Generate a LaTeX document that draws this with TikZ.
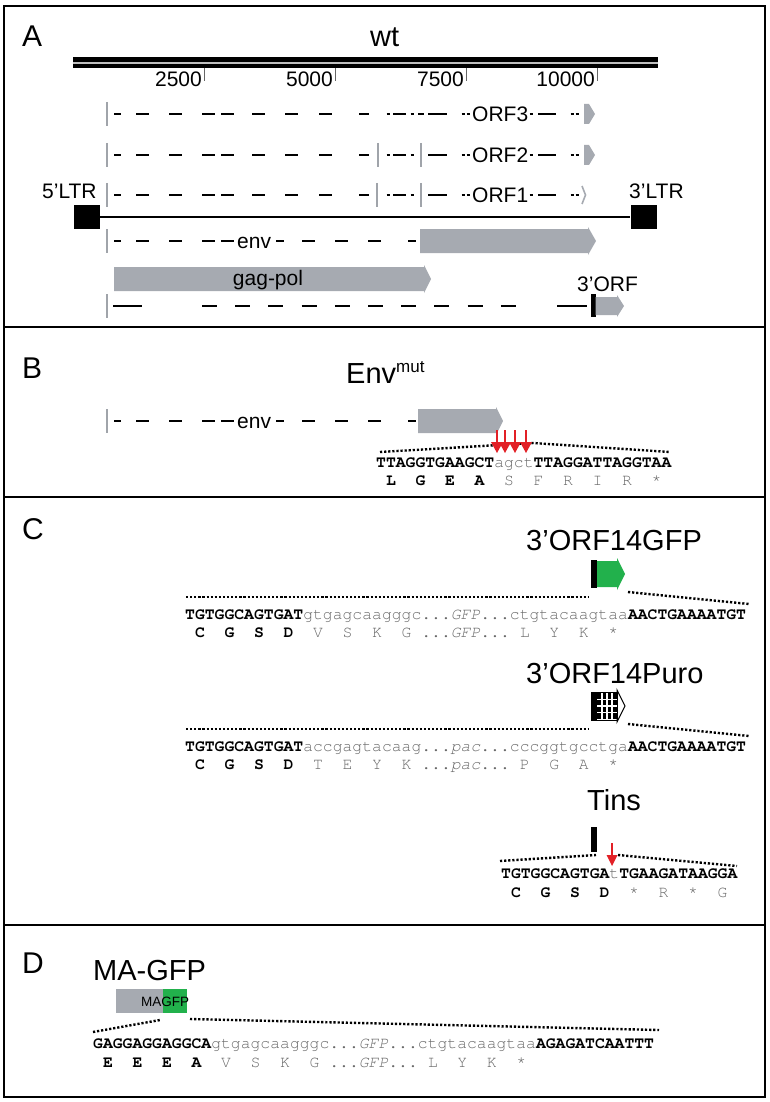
\documentclass[tikz,border=0pt]{standalone}
\usepackage{fontspec}
\setmainfont{Liberation Sans}
\setmonofont{texgyrecursor}[Extension=.otf, UprightFont=*-regular, BoldFont=*-bold, ItalicFont=*-italic, BoldItalicFont=*-bolditalic]
\definecolor{arrgray}{RGB}{166,170,177}
\definecolor{barcol}{RGB}{160,164,170}
\definecolor{gfpgreen}{RGB}{34,177,76}
\definecolor{redc}{RGB}{226,32,38}
\definecolor{seqgray}{RGB}{105,105,105}
\newcommand{\sqB}[1]{{\bfseries #1}}
\newcommand{\sqG}[1]{{\color{seqgray}#1}}
\newcommand{\sqI}[1]{{\itshape #1}}
\tikzset{
  frame/.style={line width=2.5pt},
  dashseg/.style={line width=2.6pt},
  gbar/.style={line width=1.8pt, barcol},
  tick/.style={line width=0.8pt, black!60},
  lab/.style={inner sep=0pt, anchor=base west, font=\fontsize{21}{25}\selectfont},
  big/.style={inner sep=0pt, anchor=base west, font=\fontsize{29}{34}\selectfont},
  panel/.style={inner sep=0pt, anchor=base west, font=\fontsize{30}{36}\selectfont},
  seq/.style={inner sep=0pt, anchor=base west, font=\fontsize{16.4}{18}\selectfont\ttfamily},
  dotline/.style={line width=2.4pt, dash pattern=on 2.2pt off 1.9pt},
  redl/.style={line width=2pt, redc},
  ltrbox/.style={fill=black, minimum width=26pt, minimum height=24pt, inner sep=0pt},
}
\newcommand{\orfprefix}[1]{%
  \foreach \a/\b in {114/121,136/149,169/182,202/215,221/234,252/265,285/298,319/332,359/369}
    {\draw[dashseg] (\a,#1) -- (\b,#1);}}
\newcommand{\orfsuffix}[1]{%
  \foreach \a/\b in {386.5/389.5,393/406,410.5/413.5,428/447,461.5/464.5,466.5/469.5,529.5/532.5,538/556,570.5/573.5,575.5/578.5}
    {\draw[dashseg] (\a,#1) -- (\b,#1);}}
\newcommand{\envrow}[1]{%
  \foreach \a/\b in {114/121,136/149,169/182,202/215,221/234,276/284,302/315,335/348,368/381,408/416}
    {\draw[dashseg] (\a,#1) -- (\b,#1);}}
\begin{document}
\begin{tikzpicture}[x=1pt,y=-1pt]
\useasboundingbox (0,0) rectangle (770,1102);
% frames
\draw[frame] (4,6) rectangle (765,1097);
\draw[frame] (4,327) -- (765,327);
\draw[frame] (4,497) -- (765,497);
\draw[frame] (4,925) -- (765,925);

% ================= Panel A
\node[panel] (lA) at (22,47) {A};
\node[big] (wt) at (370,47) {wt};
\fill (73,57) rectangle (658,62.3);
\fill[black!25] (73,62.3) rectangle (658,63.7);
\fill (73,63.7) rectangle (658,68.3);
\foreach \xx/\tt in {204/2500,335/5000,466/7500,597/10000}{
  \draw[tick] (\xx,68) -- (\xx,81);
  \node[lab, anchor=base east] at (\xx-2,87) {\tt};
}
% ORF3
\draw[gbar] (107,102) -- (107,126);
\orfprefix{114}
\orfsuffix{114}
\draw[dashseg] (418,114) -- (424,114);
\node[lab] (orf3) at (472,121.5) {ORF3};
\fill[arrgray] (584,104) -- (589,104) -- (595,114) -- (589,124) -- (584,124) -- cycle;
% ORF2
\draw[gbar] (107,143) -- (107,167);
\orfprefix{155}
\orfsuffix{155}
\draw[gbar] (378,143) -- (378,167);
\draw[gbar] (421,143) -- (421,167);
\node[lab] (orf2) at (472,162.5) {ORF2};
\fill[arrgray] (584,145) -- (589,145) -- (595,155) -- (589,165) -- (584,165) -- cycle;
% ORF1
\draw[gbar] (107,183) -- (107,207);
\orfprefix{195}
\orfsuffix{195}
\draw[gbar] (377,183) -- (377,207);
\draw[gbar] (421,183) -- (421,207);
\node[lab] (orf1) at (472,202.5) {ORF1};
\draw[line width=1.6pt, arrgray] (582,186) -- (585.5,195) -- (582,204);
% LTRs
\node[lab] (l5) at (42,198) {5'LTR};
\node[lab] (l3) at (629,198) {3'LTR};
\node[ltrbox] (ltr5) at (87,217) {};
\node[ltrbox] (ltr3) at (643.5,217) {};
\draw[line width=2.5pt] (ltr5) -- (ltr3);
% env
\draw[gbar] (107,229) -- (107,253);
\envrow{241}
\node[lab] (envA) at (237,248.5) {env};
\fill[arrgray] (420,229) -- (588,229) -- (588,227) -- (596,241) -- (588,255) -- (588,253) -- (420,253) -- cycle;
% gag-pol
\fill[arrgray] (114,267) -- (424,267) -- (424,265) -- (431,279) -- (424,293) -- (424,291) -- (114,291) -- cycle;
\node[lab, anchor=base] (gagpol) at (268,285) {gag-pol};
% bottom row
\draw[gbar] (107,294) -- (107,318);
\draw[dashseg] (113,306) -- (142,306);
\foreach \k in {0,...,9}{\draw[dashseg] ({202+33.2*\k},306) -- ({217+33.2*\k},306);}
\draw[dashseg] (557,306) -- (587,306);
\fill (591,294) rectangle (595.5,317);
\fill[arrgray] (595.5,297) -- (617,297) -- (617,295) -- (624,306) -- (617,317) -- (617,315) -- (595.5,315) -- cycle;
\node[lab] (orf3p) at (577,291) {3'ORF};

% ================= Panel B
\node[panel] (lB) at (22,378) {B};
\node[big] (envmut) at (346,383) {Env\raisebox{10.5pt}{\fontsize{17}{20}\selectfont mut}};
\draw[gbar] (107,409) -- (107,433);
\envrow{421}
\node[lab] (envB) at (237,428.5) {env};
\fill[arrgray] (418,409) -- (496,409) -- (496,407) -- (503,421) -- (496,435) -- (496,433) -- (418,433) -- cycle;
\draw[dotline] (380,452) -- (533,443) -- (670,452);
\foreach \xx in {497,505,515,526}{
  \draw[redl] (\xx,430) -- (\xx,443);
  \fill[redc] (\xx-6,442) -- (\xx+6,442) -- (\xx,453) -- cycle;
}
\node[seq] (seqB) at (376,467) {\sqB{TTAGGTGAAGCT}\sqG{agct}\sqB{TTAGGATTAGGTAA}};
\node[seq] (aaB) at (376,485) {\sqB{~L~~G~~E~~A}\sqG{~~S~~F~~R~~I~~R~~*}};

% ================= Panel C
\node[panel] (lC) at (22,539) {C};
% GFP
\node[big] (tGFP) at (526,550) {3'ORF14GFP};
\fill (591,560) rectangle (597,588);
\fill[gfpgreen] (597,561) -- (617,561) -- (617,558) -- (625,574) -- (617,590) -- (617,587) -- (597,587) -- cycle;
\draw[dotline] (186,597) -- (589,597);
\draw[dotline] (628,592) -- (749,604);
\node[seq] (seqG) at (185,619) {\sqB{TGTGGCAGTGAT}\sqG{gtgagcaagggc...\sqI{GFP}...ctgtacaagtaa}\sqB{AACTGAAAATGT}};
\node[seq] (aaG) at (185,637) {\sqB{~C~~G~~S~~D}\sqG{~~V~~S~~K~~G~...\sqI{GFP}...~L~~Y~~K~~*}};
% Puro
\node[big] (tPuro) at (526,683) {3'ORF14Puro};
\fill (591,692) rectangle (597,720);
\fill (597,693) rectangle (617,719);
\foreach \xx in {602,607,612}{\draw[white, line width=1.3pt] (\xx,693) -- (\xx,719);}
\foreach \yy in {699.5,706,712.5}{\draw[white, line width=1.3pt] (597,\yy) -- (617,\yy);}
\draw[line width=1pt, fill=white] (617,693) -- (617,690) -- (625,706) -- (617,722) -- (617,719);
\draw[line width=1pt] (591,692) rectangle (617,720);
\draw[dotline] (186,729) -- (589,729);
\draw[dotline] (628,724) -- (749,736);
\node[seq] (seqP) at (185,751) {\sqB{TGTGGCAGTGAT}\sqG{accgagtacaag...\sqI{pac}...cccggtgcctga}\sqB{AACTGAAAATGT}};
\node[seq] (aaP) at (185,769) {\sqB{~C~~G~~S~~D}\sqG{~~T~~E~~Y~~K~...\sqI{pac}...~P~~G~~A~~*}};
% Tins
\node[big] (tTins) at (587,810) {Tins};
\fill (591,827) rectangle (597,852);
\draw[dotline] (500,861) -- (596,855);
\draw[dotline] (618,855) -- (737,866);
\draw[redl] (612,843) -- (612,856);
\fill[redc] (606.5,855) -- (617.5,855) -- (612,866) -- cycle;
\node[seq] (seqT) at (501,878) {\sqB{TGTGGCAGTGA}\sqG{t}\sqB{TGAAGATAAGGA}};
\node[seq] (aaT) at (501,897) {\sqB{~C~~G~~S~~D}\sqG{~~*~~R~~*~~G}};

% ================= Panel D
\node[panel] (lD) at (22,973) {D};
\node[big] (tMA) at (93,980) {MA-GFP};
\fill[arrgray] (116,989) rectangle (163,1013);
\fill[gfpgreen] (163,989) rectangle (187,1013);
\node[inner sep=0pt, anchor=base west, font=\fontsize{13.5}{16}\selectfont] (magfp) at (141,1006) {MAGFP};
\draw[dotline] (93,1032) -- (160,1020);
\draw[dotline] (190,1019) -- (659,1030);
\node[seq] (seqD) at (93,1048) {\sqB{GAGGAGGAGGCA}\sqG{gtgagcaagggc...\sqI{GFP}...ctgtacaagtaa}\sqB{AGAGATCAATTT}};
\node[seq] (aaD) at (93,1067) {\sqB{~E~~E~~E~~A}\sqG{~~V~~S~~K~~G~...\sqI{GFP}...~L~~Y~~K~~*}};
\end{tikzpicture}
\end{document}
